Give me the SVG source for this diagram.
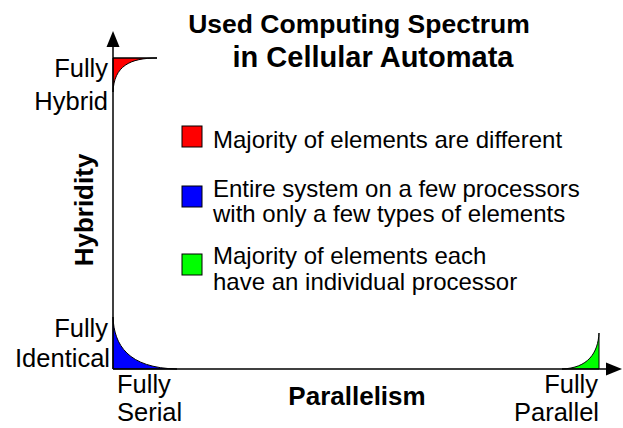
<svg xmlns="http://www.w3.org/2000/svg" width="623" height="428" viewBox="0 0 623 428">
  <style>
    text { font-family: "Liberation Sans", Arial, sans-serif; fill: #000; }
    .title { font-weight: bold; text-anchor: middle; }
    .axis-title { font-size: 26px; font-weight: bold; }
    .end { font-size: 25.5px; }
    .legend { font-size: 24px; }
    .axis { stroke: #000; stroke-width: 1.5; fill: none; }
    .region { stroke: #000; stroke-width: 1; }
    .swatch { stroke: #000; stroke-width: 1; }
  </style>

  <!-- Title -->
  <g id="title">
    <text class="title" x="359" y="33" font-size="26.5">Used Computing Spectrum</text>
    <text class="title" x="373" y="67" font-size="29">in Cellular Automata</text>
  </g>

  <!-- Coloured extremes of the spectrum -->
  <g id="region-hybrid">
    <path class="region" fill="#ff0000" d="M113,58 L157,58 C130,58 114,66 113,92 Z"/>
    <line class="region" x1="113" y1="58" x2="157" y2="58"/>
  </g>
  <g id="region-serial">
    <path class="region" fill="#0000ff" d="M113,317 C114,345 128,368 177,369 L113,369 Z"/>
  </g>
  <g id="region-parallel">
    <path class="region" fill="#00ff00" d="M562,369 C588,368 598,353 599,333 L599,369 Z"/>
  </g>

  <!-- Axes -->
  <g id="connectors">
    <line class="axis" x1="113" y1="369" x2="113" y2="45"/>
    <polygon points="113,31 106.5,47 119.5,47" fill="#000"/>
    <line class="axis" x1="113" y1="369" x2="608" y2="369"/>
    <polygon points="622,369 606,362.5 606,375.5" fill="#000"/>
  </g>

  <!-- Axis labels -->
  <g id="label-hybridity">
    <text class="axis-title" transform="translate(93,210) rotate(-90)" text-anchor="middle">Hybridity</text>
  </g>
  <g id="label-parallelism">
    <text class="axis-title" x="357" y="405" text-anchor="middle">Parallelism</text>
  </g>
  <g id="label-fully-hybrid">
    <text class="end" x="108" y="77" text-anchor="end">Fully</text>
    <text class="end" x="108" y="110" text-anchor="end">Hybrid</text>
  </g>
  <g id="label-fully-identical">
    <text class="end" x="108" y="337" text-anchor="end">Fully</text>
    <text class="end" x="110" y="367" text-anchor="end">Identical</text>
  </g>
  <g id="label-fully-serial">
    <text class="end" x="117" y="393">Fully</text>
    <text class="end" x="117" y="421">Serial</text>
  </g>
  <g id="label-fully-parallel">
    <text class="end" x="598" y="393" text-anchor="end">Fully</text>
    <text class="end" x="599" y="421" text-anchor="end">Parallel</text>
  </g>

  <!-- Legend -->
  <g id="legend-red">
    <rect class="swatch" x="182" y="126" width="20" height="21" fill="#ff0000"/>
    <text class="legend" x="213" y="148">Majority of elements are different</text>
  </g>
  <g id="legend-blue">
    <rect class="swatch" x="182" y="186" width="20" height="21" fill="#0000ff"/>
    <text class="legend" x="213" y="197">Entire system on a few processors</text>
    <text class="legend" x="213" y="222">with only a few types of elements</text>
  </g>
  <g id="legend-green">
    <rect class="swatch" x="182" y="254" width="20" height="21" fill="#00ff00"/>
    <text class="legend" x="213" y="264">Majority of elements each</text>
    <text class="legend" x="213" y="290">have an individual processor</text>
  </g>
</svg>
